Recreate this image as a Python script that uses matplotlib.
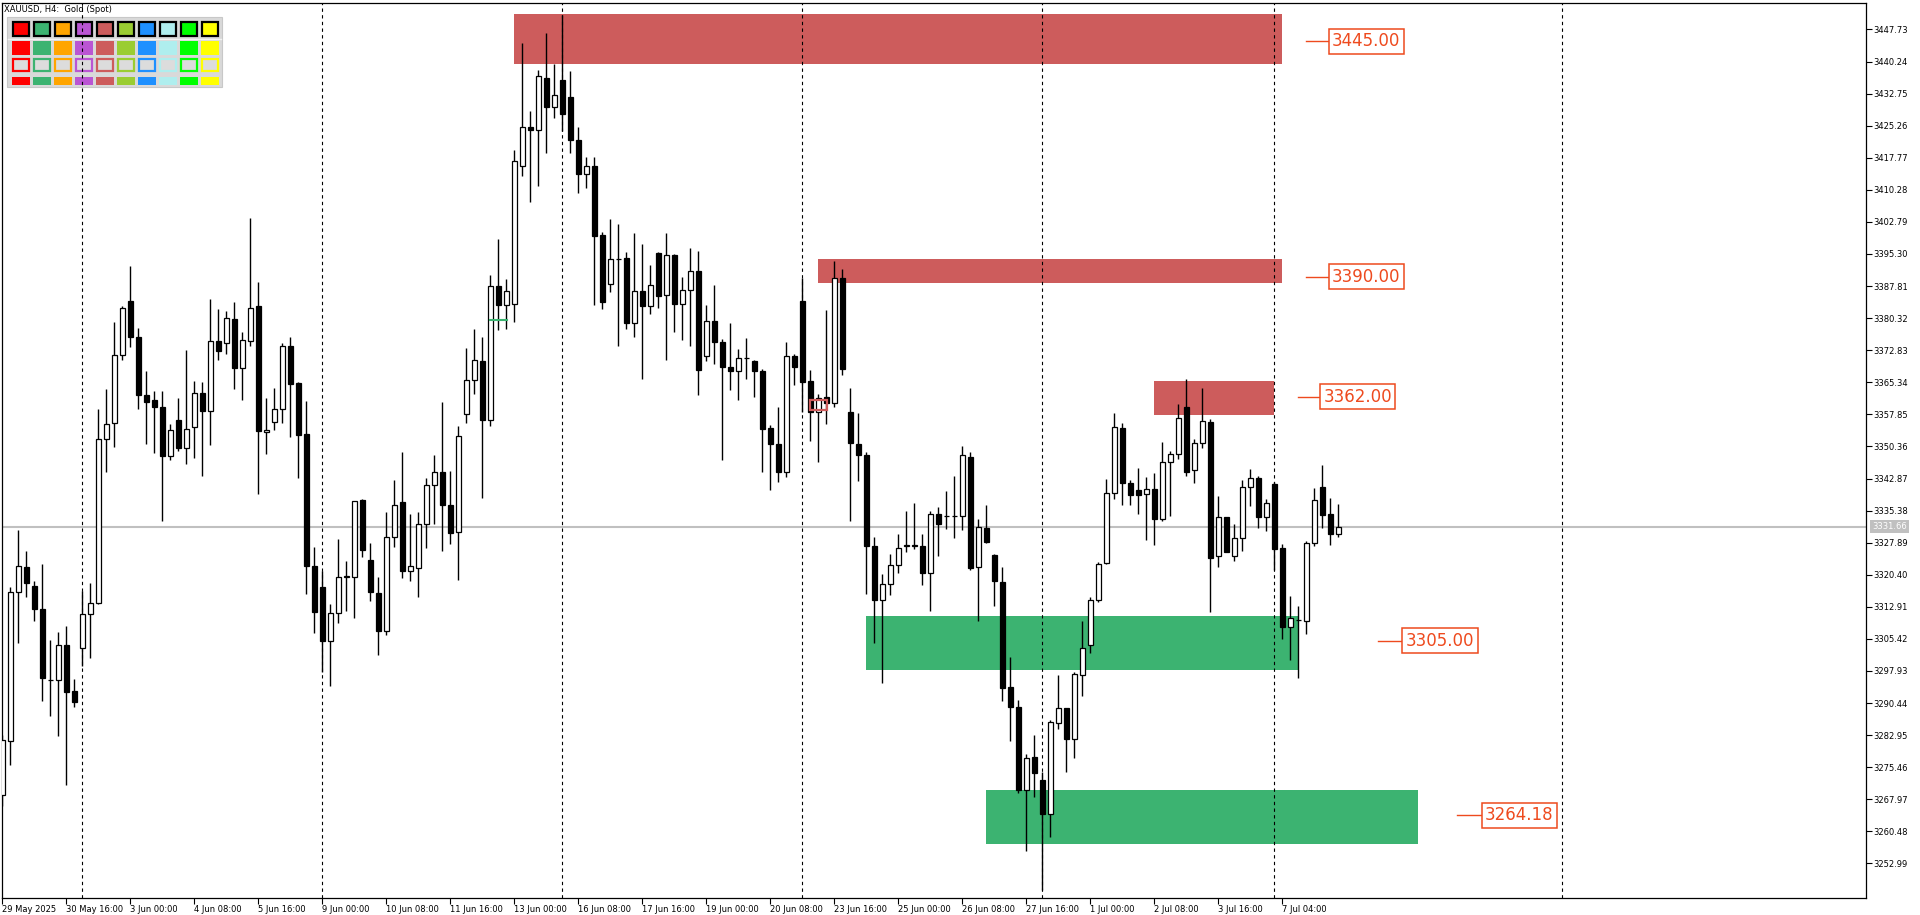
import numpy as np
import matplotlib
matplotlib.use('Agg')
import matplotlib.pyplot as plt
from matplotlib.patches import Rectangle
import matplotlib.transforms as mtransforms

# XAUUSD H4 candles, 29 May 2025 08:00 .. 8 Jul 2025 08:00
opens = [
    3269.0, 3281.6, 3316.3, 3322.1, 3317.7, 3312.3, 3295.9, 3295.9, 3304.1, 3293.3,
    3303.2, 3311.2, 3313.9, 3352.1, 3355.8, 3371.8, 3384.4, 3376.0, 3362.4, 3361.1,
    3359.6, 3348.2, 3356.5, 3350.0, 3354.9, 3362.9, 3358.6, 3375.0, 3374.4, 3380.2,
    3368.6, 3375.0, 3383.1, 3353.7, 3356.1, 3359.1, 3373.7, 3365.1, 3353.3, 3322.5,
    3317.6, 3305.0, 3311.5, 3319.8, 3319.8, 3337.8, 3323.9, 3316.2, 3307.3, 3329.3,
    3337.3, 3321.3, 3321.9, 3332.3, 3341.4, 3344.5, 3336.8, 3330.3, 3357.9, 3365.8,
    3370.3, 3356.6, 3387.8, 3383.5, 3383.6, 3415.9, 3425.0, 3424.2, 3436.4, 3429.7,
    3436.0, 3432.0, 3422.0, 3413.9, 3415.9, 3399.7, 3388.2, 3394.2, 3394.3, 3379.1,
    3386.6, 3383.1, 3395.5, 3385.7, 3395.1, 3383.7, 3386.8, 3391.3, 3371.4, 3379.6,
    3374.8, 3368.9, 3367.9, 3371.0, 3370.3, 3368.0, 3354.6, 3351.0, 3344.5, 3371.4,
    3384.3, 3365.7, 3358.5, 3362.0, 3360.5, 3389.6, 3358.5, 3351.0, 3348.4, 3327.2,
    3314.4, 3318.2, 3322.6, 3327.2, 3327.2, 3327.1, 3320.7, 3334.6, 3334.1, 3334.0,
    3334.1, 3348.0, 3322.2, 3331.2, 3325.1, 3318.6, 3294.2, 3289.5, 3270.1, 3277.8,
    3272.4, 3264.5, 3285.7, 3289.2, 3282.1, 3297.0, 3304.0, 3314.6, 3323.2, 3339.4,
    3354.6, 3341.8, 3340.1, 3339.2, 3340.4, 3333.5, 3346.7, 3348.5, 3359.5, 3344.8,
    3351.1, 3356.0, 3324.7, 3333.8, 3324.7, 3328.9, 3341.0, 3343.1, 3333.8, 3341.5,
    3326.6, 3308.1, 3309.8, 3309.5, 3327.7, 3340.9, 3334.6, 3329.9,
]
highs = [
    3283.0, 3317.5, 3330.8, 3325.9, 3318.9, 3322.9, 3305.2, 3307.0, 3308.4, 3296.0,
    3316.6, 3318.5, 3359.0, 3363.7, 3379.4, 3383.1, 3392.4, 3378.1, 3367.9, 3363.2,
    3363.2, 3355.7, 3361.6, 3372.9, 3365.6, 3365.4, 3384.8, 3382.4, 3382.0, 3384.2,
    3377.0, 3403.7, 3388.7, 3361.6, 3364.1, 3374.6, 3375.8, 3365.3, 3361.0, 3326.8,
    3321.3, 3313.5, 3328.7, 3323.7, 3337.7, 3338.1, 3327.7, 3319.9, 3335.0, 3342.5,
    3349.0, 3334.5, 3335.0, 3343.0, 3348.4, 3360.7, 3344.7, 3355.2, 3373.4, 3377.9,
    3375.8, 3390.5, 3398.7, 3389.4, 3419.6, 3444.6, 3428.7, 3438.2, 3446.9, 3439.6,
    3451.2, 3438.0, 3425.0, 3418.0, 3417.9, 3400.4, 3403.5, 3402.3, 3395.8, 3400.2,
    3397.6, 3392.7, 3395.7, 3400.1, 3395.4, 3390.0, 3396.7, 3396.0, 3383.4, 3388.1,
    3375.4, 3379.2, 3373.1, 3375.7, 3370.6, 3368.4, 3355.3, 3359.6, 3374.8, 3371.9,
    3389.6, 3368.2, 3362.6, 3382.2, 3393.6, 3391.8, 3363.9, 3358.1, 3349.0, 3329.1,
    3320.6, 3325.3, 3330.0, 3335.4, 3337.2, 3329.8, 3335.4, 3336.2, 3340.0, 3343.4,
    3350.4, 3349.0, 3333.4, 3336.6, 3325.2, 3322.3, 3301.2, 3291.1, 3278.5, 3282.9,
    3274.4, 3286.4, 3297.0, 3289.3, 3297.6, 3309.6, 3315.1, 3323.3, 3342.7, 3358.2,
    3355.8, 3342.5, 3345.3, 3343.2, 3344.2, 3351.4, 3349.2, 3360.3, 3366.1, 3352.1,
    3363.9, 3356.7, 3338.8, 3333.9, 3332.3, 3342.5, 3345.0, 3343.5, 3338.2, 3342.1,
    3327.6, 3315.5, 3313.1, 3328.3, 3340.7, 3346.0, 3338.3, 3336.9,
]
lows = [
    3266.5, 3275.9, 3304.5, 3315.1, 3309.5, 3290.9, 3287.4, 3282.8, 3271.4, 3289.6,
    3299.1, 3301.0, 3313.6, 3344.3, 3350.2, 3370.6, 3373.6, 3359.1, 3350.9, 3348.8,
    3332.9, 3347.2, 3349.3, 3346.2, 3347.6, 3343.5, 3350.6, 3370.6, 3371.9, 3363.7,
    3361.2, 3373.8, 3339.2, 3348.5, 3354.1, 3355.8, 3352.5, 3343.1, 3316.0, 3306.8,
    3297.8, 3294.5, 3309.2, 3312.0, 3310.3, 3324.6, 3314.2, 3301.7, 3306.4, 3326.9,
    3319.6, 3318.9, 3315.2, 3326.7, 3332.2, 3326.0, 3327.6, 3319.2, 3355.9, 3362.5,
    3338.4, 3355.1, 3377.5, 3377.8, 3379.4, 3413.5, 3407.4, 3411.2, 3418.9, 3427.1,
    3424.0, 3419.0, 3409.5, 3410.6, 3383.3, 3382.5, 3386.4, 3373.9, 3377.9, 3375.8,
    3366.0, 3381.2, 3382.8, 3370.6, 3377.0, 3375.3, 3373.9, 3362.4, 3370.4, 3369.7,
    3347.3, 3363.6, 3361.3, 3366.0, 3362.0, 3344.5, 3340.3, 3342.0, 3343.3, 3364.6,
    3358.3, 3351.7, 3346.7, 3355.6, 3359.6, 3367.1, 3332.9, 3342.3, 3315.8, 3304.4,
    3295.2, 3315.6, 3320.7, 3325.7, 3326.3, 3318.0, 3311.9, 3324.8, 3331.1, 3328.9,
    3330.9, 3321.6, 3309.7, 3327.9, 3313.1, 3290.8, 3281.6, 3269.4, 3255.9, 3268.4,
    3246.8, 3259.1, 3284.4, 3274.4, 3277.7, 3292.0, 3302.1, 3314.0, 3322.8, 3338.2,
    3336.8, 3336.8, 3334.5, 3328.5, 3327.4, 3333.0, 3334.0, 3347.4, 3343.5, 3341.9,
    3350.1, 3311.6, 3322.1, 3325.7, 3323.5, 3326.0, 3336.5, 3331.2, 3330.7, 3321.6,
    3305.3, 3300.6, 3296.4, 3306.5, 3327.2, 3331.2, 3327.4, 3329.3,
]
closes = [
    3281.8, 3316.3, 3322.4, 3318.4, 3312.3, 3296.3, 3295.9, 3304.1, 3293.0, 3290.7,
    3311.2, 3313.7, 3352.1, 3355.6, 3371.8, 3382.6, 3376.0, 3362.4, 3360.7, 3359.5,
    3348.1, 3354.2, 3350.0, 3354.5, 3362.9, 3358.6, 3375.0, 3372.7, 3380.4, 3368.6,
    3375.3, 3382.8, 3353.9, 3354.2, 3359.1, 3373.9, 3364.9, 3353.1, 3322.5, 3311.8,
    3305.0, 3311.5, 3319.8, 3320.0, 3337.6, 3326.2, 3316.3, 3307.3, 3329.3, 3336.8,
    3321.3, 3322.5, 3332.3, 3341.4, 3344.5, 3336.8, 3330.2, 3352.9, 3365.8, 3370.5,
    3356.6, 3387.8, 3383.5, 3386.6, 3416.9, 3425.0, 3424.3, 3436.8, 3429.6, 3432.5,
    3428.0, 3422.0, 3413.9, 3415.8, 3399.6, 3384.2, 3394.1, 3394.2, 3379.1, 3386.6,
    3383.1, 3388.0, 3385.4, 3395.0, 3383.7, 3386.8, 3391.3, 3368.3, 3379.6, 3374.7,
    3368.8, 3367.9, 3371.0, 3371.1, 3367.9, 3354.5, 3350.9, 3344.3, 3371.4, 3369.0,
    3365.5, 3358.5, 3361.7, 3360.5, 3389.6, 3368.5, 3351.2, 3348.3, 3327.0, 3314.4,
    3318.2, 3322.6, 3326.6, 3327.3, 3327.3, 3320.7, 3334.6, 3332.3, 3334.2, 3334.1,
    3348.4, 3322.0, 3331.6, 3328.1, 3319.0, 3294.0, 3289.4, 3270.1, 3277.6, 3274.2,
    3264.5, 3286.0, 3289.2, 3282.1, 3297.2, 3303.3, 3314.5, 3322.8, 3339.4, 3354.8,
    3341.9, 3339.1, 3339.1, 3340.4, 3333.5, 3346.7, 3348.5, 3357.1, 3344.5, 3351.1,
    3356.2, 3324.4, 3333.8, 3325.8, 3328.9, 3341.0, 3343.1, 3333.8, 3337.1, 3326.5,
    3308.2, 3310.2, 3309.9, 3327.7, 3337.8, 3334.4, 3329.8, 3331.66,
]

last_price = 3331.66

# x axis labels (bar index, text)
xtick_idx = [0, 8, 16, 24, 32, 40, 48, 56, 64, 72, 80, 88, 96, 104, 112, 120, 128, 136, 144, 152, 160]
xtick_labels = ['29 May 2025', '30 May 16:00', '3 Jun 00:00', '4 Jun 08:00', '5 Jun 16:00',
                '9 Jun 00:00', '10 Jun 08:00', '11 Jun 16:00', '13 Jun 00:00', '16 Jun 08:00',
                '17 Jun 16:00', '19 Jun 00:00', '20 Jun 08:00', '23 Jun 16:00', '25 Jun 00:00',
                '26 Jun 08:00', '27 Jun 16:00', '1 Jul 00:00', '2 Jul 08:00', '3 Jul 16:00',
                '7 Jul 04:00']
ytick_vals = [3252.99, 3260.48, 3267.97, 3275.46, 3282.95, 3290.44, 3297.93, 3305.42, 3312.91,
              3320.40, 3327.89, 3335.38, 3342.87, 3350.36, 3357.85, 3365.34, 3372.83, 3380.32,
              3387.81, 3395.30, 3402.79, 3410.28, 3417.77, 3425.26, 3432.75, 3440.24, 3447.73]

# week separators (bar index of Monday 00:00)
week_idx = [10, 40, 70, 100, 130, 159, 195]

# supply / demand zones: start bar, end bar, bottom, top, label price
zone_start = [64, 102, 144, 108, 123]
zone_end = [160, 160, 159, 162, 177]
zone_low = [3439.7, 3388.6, 3357.8, 3298.1, 3257.6]
zone_high = [3451.4, 3394.1, 3365.6, 3310.7, 3270.1]
zone_price = [3445.00, 3390.00, 3362.00, 3305.00, 3264.18]
zone_kind = ['supply', 'supply', 'supply', 'demand', 'demand']
# label leader line start / box left (in bars)
label_line_start = [163.0, 163.0, 162.0, 172.0, 181.8]
label_box_left = [165.8, 165.8, 164.7, 175.0, 184.9]

palette = ['#FF0000', '#3CB371', '#FFA500', '#BA55D3', '#CD5C5C',
           '#9ACD32', '#1E90FF', '#AFEEEE', '#00FF00', '#FFFF00']

W, H = 1920, 915
fig = plt.figure(figsize=(W / 100, H / 100), dpi=100, facecolor='white')

# pixel overlay for the toolbar-like palette and the symbol caption
ov = fig.add_axes([0, 0, 1, 1], zorder=0)
ov.set_xlim(0, W)
ov.set_ylim(H, 0)
ov.axis('off')

ax = fig.add_axes([2 / W, 17 / H, 1864 / W, 895.5 / H], zorder=1)
ax.patch.set_alpha(0)

o = np.array(opens)
h = np.array(highs)
l = np.array(lows)
c = np.array(closes)
x = np.arange(len(o))
bull = c >= o

# zones
for x0, x1, lo, hi, kind in zip(zone_start, zone_end, zone_low, zone_high, zone_kind):
    col = '#CD5C5C' if kind == 'supply' else '#3CB371'
    ax.add_patch(Rectangle((x0, lo), x1 - x0, hi - lo, facecolor=col, edgecolor='none', zorder=1))

# last price line
ax.axhline(last_price, color='#C0C0C0', lw=1.5, zorder=1.5)

# week separators
for wi in week_idx:
    ax.axvline(wi, color='black', lw=0.8, ls=(0, (3, 3)), zorder=2)

# small objects on the chart
ax.plot([61, 63.05], [3379.8, 3379.8], color='#3CB371', lw=1.5, zorder=5)
ax.add_patch(Rectangle((100.9, 3358.9), 2.15, 2.2, facecolor='none', edgecolor='#CD5C5C', lw=1.6, zorder=5))

# candles
ax.vlines(x, l, h, color='black', lw=1.0, zorder=3)
ax.bar(x, np.abs(c - o), bottom=np.minimum(o, c), width=0.56,
       color=np.where(bull, 'white', 'black'), edgecolor='black', linewidth=0.9, zorder=4)

# zone labels
lab_col = '#EE4A1E'
for ls, bl, p in zip(label_line_start, label_box_left, zone_price):
    ax.plot([ls, bl], [p, p], color=lab_col, lw=1.0, zorder=6)
    ax.text(bl + 0.42, p, f'{p:.2f}', ha='left', va='center', fontsize=12, color=lab_col, zorder=7,
            bbox=dict(boxstyle='square,pad=0.2', facecolor='white', edgecolor=lab_col, lw=1.1))

ax.set_xlim(-0.04, 232.96)
ax.set_ylim(3244.91, 3454.03)

for s in ax.spines.values():
    s.set_color('black')
    s.set_linewidth(0.9)

ax.yaxis.tick_right()
ax.set_yticks(ytick_vals)
ax.set_yticklabels([f'{v:.2f}' for v in ytick_vals])
ax.tick_params(axis='y', direction='out', length=4, width=0.8, labelsize=6, pad=1)
ax.set_xticks(xtick_idx)
ax.set_xticklabels(xtick_labels, ha='left')
ax.tick_params(axis='x', direction='out', length=4, width=0.8, labelsize=6, pad=1)

trans = mtransforms.blended_transform_factory(ax.transAxes, ax.transData)
ax.text(1.0 + 6 / 1864, last_price, f'{last_price:.2f}', transform=trans, ha='left', va='center',
        fontsize=6, color='white', clip_on=False, zorder=10,
        bbox=dict(boxstyle='square,pad=0.25', facecolor='#C0C0C0', edgecolor='none'))

# caption and palette panel
ov.text(4, 9, 'XAUUSD, H4:  Gold (Spot)', fontsize=6, ha='left', va='center')
ov.add_patch(Rectangle((7.3, 17.3), 214.4, 70, facecolor='#D9D9D9', edgecolor='#C8C8C8', lw=0.8))
ov.plot([8, 221], [38.5, 38.5], color='#F2F2F2', lw=1.0)
for k, col in enumerate(palette):
    x0 = 11.7 + 21 * k
    ov.add_patch(Rectangle((x0 + 0.8, 22), 16.7, 14, facecolor=col, edgecolor='black', lw=1.6))
    ov.add_patch(Rectangle((x0, 40.7), 18.3, 14.3, facecolor=col, edgecolor='none'))
    ov.add_patch(Rectangle((x0 + 0.8, 59), 16.7, 12.2, facecolor='#DCDCDC', edgecolor=col, lw=1.6))
    ov.add_patch(Rectangle((x0, 76.7), 18.3, 8.3, facecolor=col, edgecolor='none'))

fig.savefig('out.png', dpi=100, facecolor='white')
